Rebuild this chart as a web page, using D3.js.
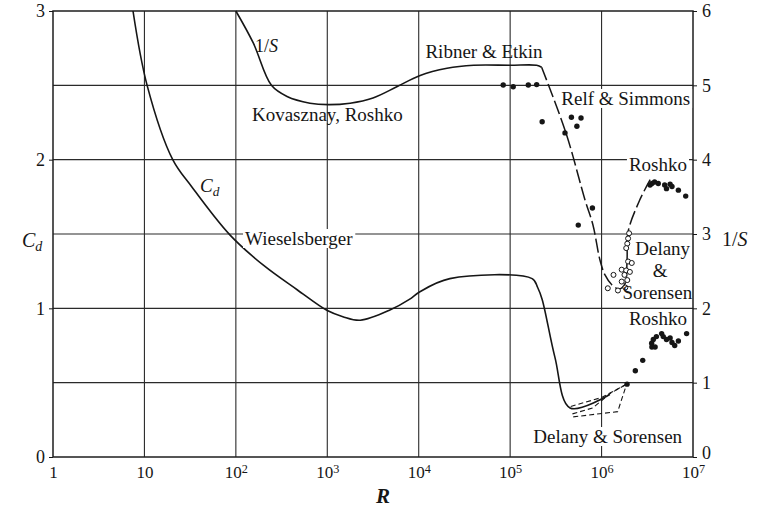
<!DOCTYPE html>
<html><head><meta charset="utf-8">
<script src="https://cdn.jsdelivr.net/npm/d3@7"></script>
<style>
body{margin:0;background:#fff}
svg{display:block;font-family:"Liberation Serif","DejaVu Serif",serif}
</style></head><body>
<svg id="chart" width="759" height="512"></svg>
<script>
// Reynolds-number decades on the x axis, C_d on the left, 1/S (Strouhal) on the right
const decadeExponents = [0, 1, 2, 3, 4, 5, 6, 7];
const decadeTicks = decadeExponents.map(e => Math.pow(10, e));
const cdTicks = [0, 1, 2, 3];
const invSTicks = [0, 1, 2, 3, 4, 5, 6];
const cdGrid = [0.5, 1, 1.5, 2, 2.5];

// Drag coefficient curve (Wieselsberger), [R, C_d]
const cdCurve = [
  [7.5, 3.0], [10.7, 2.5], [20.4, 2.0], [32.9, 1.818], [86, 1.494], [200, 1.29],
  [468, 1.125], [1000, 0.985], [1480, 0.944], [2290, 0.92], [4900, 0.99], [7900, 1.06],
  [10200, 1.11], [21900, 1.20], [174000, 1.20], [200000, 1.14], [224000, 1.06],
  [309000, 0.67], [452000, 0.33], [1.23e6, 0.42]
];
// Delany & Sorensen drag curves near the minimum, [R, C_d]
const cdDashA = [[4.6e5, 0.34], [1.0e6, 0.40], [1.88e6, 0.49]];
const cdDashB = [[4.9e5, 0.27], [1.5e6, 0.305], [1.88e6, 0.49]];
const cdDashC = [[4.8e5, 0.29], [8.0e5, 0.33], [1.26e6, 0.43], [1.88e6, 0.49]];
// Roshko drag measurements, [R, C_d]
const cdRoshko = [
  [1.9e6, 0.49], [2.34e6, 0.58], [2.82e6, 0.65], [3.53e6, 0.765], [3.68e6, 0.79],
  [3.98e6, 0.81], [4.54e6, 0.83], [4.73e6, 0.81], [5.13e6, 0.79], [5.62e6, 0.80],
  [5.89e6, 0.77], [6.31e6, 0.75], [6.92e6, 0.78], [8.51e6, 0.83], [3.55e6, 0.74],
  [3.85e6, 0.74]
];

// 1/S curve: Kovasznay, Roshko and Ribner & Etkin, [R, 1/S]
const invSCurve = [
  [100, 6.0], [155, 5.57], [245, 5.0], [363, 4.85], [646, 4.76], [1020, 4.74],
  [1780, 4.76], [3160, 4.83], [5750, 4.98], [10200, 5.13], [20400, 5.23],
  [39800, 5.27], [100000, 5.27], [195000, 5.27], [221000, 5.243]
];
// 1/S beyond the critical range (long dashes), [R, 1/S]
const invSDrop = [
  [221000, 5.243], [408000, 4.359], [659000, 3.458], [805000, 3.121],
  [960000, 2.65], [1.09e6, 2.449], [1.30e6, 2.314], [1.55e6, 2.26],
  [1.80e6, 2.33], [1.90e6, 2.65], [1.95e6, 3.03], [2.6e6, 3.45], [3.4e6, 3.73]
];
// Relf & Simmons, [R, 1/S]
const invSRelf = [
  [8.4e4, 5.005], [1.08e5, 4.98], [1.58e5, 5.005], [1.95e5, 5.01], [2.24e5, 4.51],
  [3.98e5, 4.36], [4.68e5, 4.57], [5.96e5, 4.56], [5.37e5, 4.45], [7.94e5, 3.35],
  [5.56e5, 3.12]
];
// Roshko, [R, 1/S]
const invSRoshko = [
  [3.55e6, 3.68], [3.80e6, 3.70], [4.17e6, 3.68], [4.90e6, 3.66], [5.13e6, 3.61],
  [5.62e6, 3.67], [5.89e6, 3.64], [6.92e6, 3.59], [8.32e6, 3.51], [3.39e6, 3.66]
];
// Delany & Sorensen, [R, 1/S]
const invSDelany = [
  [2.0e6, 3.01], [1.95e6, 2.94], [1.91e6, 2.87], [1.86e6, 2.81], [1.95e6, 2.63],
  [2.14e6, 2.61], [1.66e6, 2.52], [1.86e6, 2.51], [2.04e6, 2.49], [1.78e6, 2.45],
  [1.35e6, 2.45], [1.91e6, 2.38], [1.66e6, 2.36], [1.17e6, 2.27], [1.51e6, 2.24],
  [1.82e6, 2.28]
];

const ink = "#161616";
const svg = d3.select("#chart");
const plotLeft = 53, plotRight = 693, plotTop = 11, plotBottom = 457;

const x = d3.scaleLog().domain([1, 1e7]).range([plotLeft, plotRight]);
const yCd = d3.scaleLinear().domain([0, 3]).range([plotBottom, plotTop]);
const yInv = d3.scaleLinear().domain([0, 6]).range([plotBottom, plotTop]);

// grid
const grid = svg.append("g").attr("stroke", "#2a2a2a").attr("stroke-width", 1.1);
grid.selectAll("line.h").data(cdGrid).join("line").attr("class", "h")
  .attr("x1", plotLeft).attr("x2", plotRight).attr("y1", d => yCd(d)).attr("y2", d => yCd(d));
grid.selectAll("line.v").data(decadeTicks.slice(1, -1)).join("line").attr("class", "v")
  .attr("y1", plotTop).attr("y2", plotBottom).attr("x1", d => x(d)).attr("x2", d => x(d));
svg.append("rect").attr("x", plotLeft).attr("y", plotTop).attr("width", plotRight - plotLeft)
  .attr("height", plotBottom - plotTop).attr("fill", "none").attr("stroke", "#1e1e1e").attr("stroke-width", 1.5);

// axes
const gx = svg.append("g").attr("transform", `translate(0,${plotBottom})`)
  .call(d3.axisBottom(x).tickValues(decadeTicks).tickSize(0).tickPadding(9).tickFormat(() => ""));
gx.select(".domain").remove();
gx.selectAll(".tick text").attr("font-size", 17).attr("fill", ink).attr("font-family", "Liberation Serif")
  .each(function(d, i) {
    const e = decadeExponents[i];
    const t = d3.select(this);
    if (e === 0) t.text("1");
    else if (e === 1) t.text("10");
    else {
      t.append("tspan").text("10");
      t.append("tspan").attr("dy", "-0.4em").attr("font-size", "0.72em").text(e);
    }
  });

const gl = svg.append("g").attr("transform", `translate(${plotLeft},0)`)
  .call(d3.axisLeft(yCd).tickValues(cdTicks).tickSize(4).tickPadding(4).tickFormat(d3.format("d")));
gl.select(".domain").remove();
gl.selectAll(".tick line").attr("stroke", ink);
gl.selectAll(".tick text").attr("font-size", 18).attr("fill", ink).attr("font-family", "Liberation Serif");

const gr = svg.append("g").attr("transform", `translate(${plotRight},0)`)
  .call(d3.axisRight(yInv).tickValues(invSTicks).tickSize(4).tickPadding(5).tickFormat(d3.format("d")));
gr.select(".domain").remove();
gr.selectAll(".tick line").attr("stroke", ink);
gr.selectAll(".tick text").attr("font-size", 18).attr("fill", ink).attr("font-family", "Liberation Serif")
  .attr("dy", d => d === 0 ? "0.08em" : "0.32em");

// axis titles
const cdTitle = svg.append("text").attr("x", 22).attr("y", 247).attr("font-size", 20).attr("fill", ink);
cdTitle.append("tspan").attr("font-style", "italic").text("C");
cdTitle.append("tspan").attr("font-style", "italic").attr("font-size", "0.7em").attr("dy", "0.3em").text("d");
const sTitle = svg.append("text").attr("x", 722).attr("y", 246).attr("font-size", 20).attr("fill", ink);
sTitle.append("tspan").text("1/");
sTitle.append("tspan").attr("font-style", "italic").text("S");
svg.append("text").attr("x", 383).attr("y", 503).attr("text-anchor", "middle")
  .attr("font-size", 21).attr("font-style", "italic").attr("font-weight", "bold").attr("fill", ink).text("R");

// curves
const smooth = d3.curveCatmullRom.alpha(0.5);
const lineCd = d3.line().x(d => x(d[0])).y(d => yCd(d[1])).curve(smooth);
const lineInv = d3.line().x(d => x(d[0])).y(d => yInv(d[1])).curve(smooth);

svg.append("path").attr("d", lineCd(cdCurve)).attr("fill", "none").attr("stroke", ink).attr("stroke-width", 1.6);
[cdDashA, cdDashB, cdDashC].forEach(s => {
  svg.append("path").attr("d", d3.line().x(d => x(d[0])).y(d => yCd(d[1]))(s))
    .attr("fill", "none").attr("stroke", ink).attr("stroke-width", 1.1).attr("stroke-dasharray", "5,3");
});
svg.append("path").attr("d", lineInv(invSCurve)).attr("fill", "none").attr("stroke", ink).attr("stroke-width", 1.6);
svg.append("path").attr("d", lineInv(invSDrop))
  .attr("fill", "none").attr("stroke", ink).attr("stroke-width", 1.5).attr("stroke-dasharray", "14,4");

// points
svg.append("g").selectAll("circle").data(cdRoshko).join("circle")
  .attr("cx", d => x(d[0])).attr("cy", d => yCd(d[1])).attr("r", 2.7).attr("fill", ink);
svg.append("g").selectAll("circle").data(invSRelf.concat(invSRoshko)).join("circle")
  .attr("cx", d => x(d[0])).attr("cy", d => yInv(d[1])).attr("r", 2.7).attr("fill", ink);
svg.append("g").selectAll("circle").data(invSDelany).join("circle")
  .attr("cx", d => x(d[0])).attr("cy", d => yInv(d[1])).attr("r", 2.5)
  .attr("fill", "#fff").attr("stroke", ink).attr("stroke-width", 1);

// annotations, placed in data coordinates
function note(txt, R, cd, anchor, boxed) {
  const g = svg.append("g");
  const t = g.append("text").attr("x", x(R)).attr("y", yCd(cd)).attr("text-anchor", anchor)
    .attr("font-size", 19).attr("fill", ink).text(txt);
  if (boxed) {
    const b = t.node().getBBox();
    g.insert("rect", "text").attr("x", b.x - 2).attr("y", b.y + 1).attr("width", b.width + 4)
      .attr("height", b.height - 2).attr("fill", "#fff");
  }
  return t;
}
note("Kovasznay, Roshko", 150, 2.26, "start", false);
note("Ribner & Etkin", 5.18e4, 2.684, "middle", false);
note("Relf & Simmons", 9.3e6, 2.368, "end", true);
note("Roshko", 8.6e6, 1.924, "end", true);
note("Delany", 9.3e6, 1.359, "end", false);
note("&", 4.36e6, 1.211, "middle", false);
note("Sorensen", 9.8e6, 1.063, "end", false);
note("Roshko", 8.6e6, 0.888, "end", false);
note("Delany & Sorensen", 7.6e6, 0.094, "end", true);
note("Wieselsberger", 126, 1.426, "start", true);

const sLab = svg.append("text").attr("x", x(162)).attr("y", yInv(5.45)).attr("font-size", 18).attr("fill", ink);
sLab.append("tspan").text("1/");
sLab.append("tspan").attr("font-style", "italic").text("S");
const cLab = svg.append("text").attr("x", x(40.5)).attr("y", yCd(1.782)).attr("font-size", 19).attr("fill", ink);
cLab.append("tspan").attr("font-style", "italic").text("C");
cLab.append("tspan").attr("font-style", "italic").attr("font-size", "0.7em").attr("dy", "0.3em").text("d");
</script></body></html>
